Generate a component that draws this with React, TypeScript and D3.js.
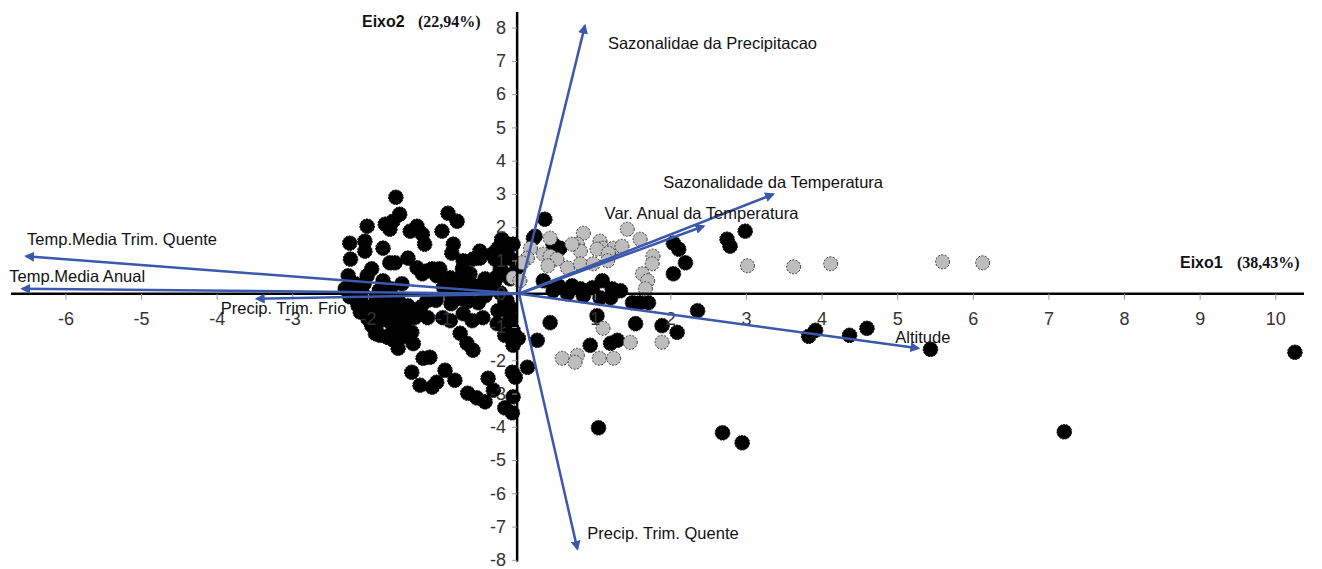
import React, { useEffect, useRef } from 'react';
import * as d3 from 'd3';

// scores of the sites on Eixo1 / Eixo2 (two groups)
const blackScores: [number, number][] = [
  [-1.63, 2.90], [-1.58, 2.39], [-1.67, 2.18], [-1.77, 2.09], [-1.71, 1.94], [-2.01, 2.03],
  [-2.24, 1.52], [-2.23, 1.04], [-2.04, 1.58], [-2.04, 1.28], [-1.80, 1.37], [-1.35, 2.03],
  [-1.28, 1.79], [-1.25, 1.49], [-1.44, 1.88], [-1.47, 1.07], [-1.71, 0.93], [-1.64, 0.93],
  [-1.95, 0.75], [-2.01, 0.54], [-1.35, 0.78], [-1.28, 0.60], [-1.21, 0.69], [-1.80, 0.39],
  [-1.55, 0.30], [-2.17, 0.30], [-2.08, 0.09], [-1.97, -0.15], [-1.87, -0.21], [-1.74, -0.06],
  [-1.60, -0.21], [-1.95, -0.51], [-1.81, -0.57], [-1.68, -0.51], [-1.55, -0.57], [-1.87, -0.87],
  [-1.74, -0.81], [-1.60, -0.96], [-1.51, -1.10], [-1.68, -1.16], [-1.84, -1.25], [-2.08, -0.21],
  [-2.00, -0.75], [-1.47, -0.36], [-1.38, -0.72], [-1.21, -0.72], [-1.22, -0.21], [-1.42, -1.16],
  [-1.74, -1.31], [-1.60, -1.64], [-1.27, -1.94], [-1.18, -1.91], [-1.42, -2.36], [-1.31, -2.75],
  [-1.15, -2.81], [-2.24, -0.09], [-2.13, -0.36], [-1.90, -1.05], [-1.66, -1.40], [-2.05, 0.30],
  [-0.94, 2.42], [-0.82, 2.18], [-1.02, 1.88], [-0.87, 1.49], [-0.89, 1.22], [-0.52, 1.07],
  [-0.23, 1.64], [-0.15, 1.49], [-0.28, 1.37], [-1.15, 0.75], [-1.05, 0.75], [-0.91, 0.48],
  [-0.78, 0.39], [-0.65, 0.60], [-0.65, 0.30], [-0.23, 0.99], [-0.19, 0.60], [-0.38, 0.18],
  [-1.01, -0.72], [-0.91, -0.81], [-0.74, -0.60], [-0.62, -0.81], [-0.78, -1.19], [-0.69, -1.49],
  [-0.61, -1.70], [-0.48, -0.72], [-0.29, -0.90], [-0.12, -0.42], [-0.08, -1.10], [-0.98, -2.30],
  [-0.85, -2.60], [-1.09, -2.66], [-0.68, -2.99], [-0.56, -3.13], [-0.45, -3.25], [-0.34, -2.90],
  [-0.19, -3.43], [-0.09, -3.58], [-0.08, -3.10], [-0.05, -2.51], [-0.41, -2.54], [0.11, -2.21],
  [0.24, -1.40], [0.41, -0.87], [-0.01, -1.34], [-0.74, 0.99], [-0.75, 0.75], [-0.61, 1.04],
  [-0.52, 1.28], [-0.42, 0.09], [-0.25, 0.03], [-0.16, -0.21], [-0.68, 0.03], [-0.54, -0.27],
  [0.34, 2.24], [-0.21, 1.58], [-0.08, 1.49], [-0.12, 1.07], [-0.03, 0.78], [0.19, 1.67],
  [0.21, 1.73], [0.45, 1.49], [0.54, 1.37], [0.32, 0.39], [0.52, 0.24], [0.70, 0.24],
  [0.81, 0.15], [0.97, 0.18], [1.10, 0.39], [1.23, 0.15], [1.34, 0.09], [1.50, -0.27],
  [1.60, -0.27], [1.71, -0.27], [0.45, 0.09], [0.64, 0.00], [0.85, -0.06], [1.07, -0.12],
  [1.21, -0.12], [2.04, 1.52], [2.11, 1.34], [2.20, 0.93], [2.04, 0.60], [2.75, 1.64],
  [2.79, 1.43], [2.99, 1.88], [2.36, -0.51], [1.03, -0.66], [1.54, -0.90], [1.89, -0.96],
  [2.09, -1.16], [0.94, -1.55], [1.21, -1.49], [1.30, -1.40], [1.05, -4.03], [2.69, -4.18],
  [2.95, -4.48], [3.83, -1.28], [3.92, -1.10], [4.37, -1.25], [4.60, -1.04], [5.44, -1.67],
  [10.26, -1.76], [7.21, -4.15], [-0.12, -0.72],
  [-2.15, -0.20], [-2.10, -0.55], [-1.90, -0.40], [-1.75, -0.35], [-1.65, -0.75], [-1.50, -0.80],
  [-1.80, -0.70], [-1.95, -0.95], [-1.55, -1.30], [-1.45, -0.55], [-1.30, -0.40], [-1.70, 0.15],
  [-1.85, 0.10], [-2.20, 0.10], [-1.40, -1.50], [-1.90, -1.20], [-1.00, 0.20], [-0.85, 0.10],
  [-1.10, -0.20], [-0.90, -0.30], [-0.30, 0.50], [-0.45, 0.45], [-0.35, 1.20],
  [-0.19, 1.28], [-0.32, 1.04], [-0.25, 0.75], [-0.12, 0.45], [-0.19, -0.21], [-0.28, -0.51],
  [-0.12, -0.87], [-0.19, -1.25], [-0.08, -1.55], [-0.09, -2.36], [-0.58, 0.24], [-0.45, -0.06],
  [-0.32, 0.39], [-2.26, 0.54], [-2.30, 0.15], [-1.09, 0.54], [-0.74, 0.63], [-0.69, 0.39],
  [-0.95, 0.03], [-0.82, -0.15], [-0.69, -0.24],
];

const grayScores: [number, number][] = [
  [0.41, 1.67], [0.85, 1.82], [1.43, 1.94], [1.60, 1.64], [1.07, 1.58], [1.11, 1.37],
  [1.03, 1.34], [0.77, 1.49], [0.81, 1.28], [1.25, 1.37], [1.18, 1.22], [1.36, 1.43],
  [1.77, 1.13], [1.76, 0.90], [0.32, 1.19], [0.41, 1.13], [0.50, 1.04], [0.15, 1.37],
  [0.11, 1.07], [-0.08, 0.48], [0.38, 0.84], [0.64, 0.78], [0.81, 0.90], [0.98, 0.90],
  [1.17, 0.99], [1.63, 0.60], [1.70, 0.39], [1.67, 0.15], [3.02, 0.84], [3.63, 0.81],
  [4.12, 0.90], [5.60, 0.96], [6.13, 0.93], [1.11, -1.04], [1.47, -1.46], [1.89, -1.46],
  [0.57, -1.94], [0.77, -1.85], [0.74, -2.06], [1.06, -1.94], [1.25, -1.94], [0.04, 0.93],
  [0.01, 0.39], [0.70, 1.49],
];

// variable loadings (arrow tips)
const variables = [
  'Temp.Media Trim. Quente',
  'Temp.Media Anual',
  'Precip. Trim. Frio',
  'Sazonalidae da Precipitacao',
  'Sazonalidade da Temperatura',
  'Var. Anual da Temperatura',
  'Altitude',
  'Precip. Trim. Quente',
];
const loadX = [-6.52, -6.57, -3.47, 0.87, 3.36, 2.44, 5.28, 0.77];
const loadY = [1.13, 0.15, -0.15, 8.06, 2.99, 2.03, -1.64, -7.67];

const xTicks = [-6, -5, -4, -3, -2, -1, 1, 2, 3, 4, 5, 6, 7, 8, 9, 10];
const yTicks = [-8, -7, -6, -5, -4, -3, -2, -1, 0, 1, 2, 3, 4, 5, 6, 7, 8];

// label placement relative to arrow tip (px)
const labelOffset: [number, number][] = [
  [1, -11], [-13, -7], [-36, 15], [23, 23], [-110, -6], [-99, -7], [-23, -5], [10, -10],
];

const W = 1322;
const H = 569;
const ARROW = '#3b58ad';
const FONT = 'Arial, "Liberation Sans", sans-serif';
const SERIF = '"Liberation Serif", "Times New Roman", serif';

const App = () => {
  const ref = useRef<SVGSVGElement>(null);

  useEffect(() => {
    const svg = d3.select(ref.current);
    svg.selectAll('*').remove();

    const x = d3.scaleLinear().domain([-6.72, 10.38]).range([11, 1304]);
    const y = d3.scaleLinear().domain([-8.05, 8.47]).range([561.5, 12]);

    const defs = svg.append('defs');
    defs.append('marker')
      .attr('id', 'head')
      .attr('viewBox', '0 0 10 10')
      .attr('refX', 8)
      .attr('refY', 5)
      .attr('markerWidth', 4)
      .attr('markerHeight', 4)
      .attr('orient', 'auto')
      .append('path')
      .attr('d', 'M0,0 L10,5 L0,10 z')
      .attr('fill', ARROW);

    // points
    svg.append('g').selectAll('circle')
      .data(blackScores)
      .enter().append('circle')
      .attr('cx', d => x(d[0]))
      .attr('cy', d => y(d[1]))
      .attr('r', 7.3)
      .attr('fill', '#000')
      .attr('stroke', '#000')
      .attr('stroke-dasharray', '2,1');

    svg.append('g').selectAll('circle')
      .data(grayScores)
      .enter().append('circle')
      .attr('cx', d => x(d[0]))
      .attr('cy', d => y(d[1]))
      .attr('r', 7)
      .attr('fill', '#bdbdbd')
      .attr('stroke', '#333')
      .attr('stroke-width', 1)
      .attr('stroke-dasharray', '2,1.5');

    // axes through origin
    const fmt = (d: d3.NumberValue) => String(d);
    const xAxis = svg.append('g').attr('transform', `translate(0,${y(0)})`)
      .call(d3.axisBottom(x).tickValues(xTicks).tickSize(6).tickPadding(12).tickFormat(fmt));
    xAxis.select('.domain').attr('d', `M${x.range()[0]},0H${x.range()[1]}`).attr('stroke', '#000').attr('stroke-width', 2.5);
    xAxis.selectAll('.tick line').attr('stroke', '#999');
    xAxis.selectAll('.tick text')
      .attr('font-family', FONT).attr('font-size', 18).attr('fill', '#333');

    const yAxis = svg.append('g').attr('transform', `translate(${x(0) - 2},0)`)
      .call(d3.axisLeft(y).tickValues(yTicks).tickSize(5).tickPadding(6).tickFormat(fmt));
    yAxis.select('.domain').attr('d', `M0,${y.range()[1]}V${y.range()[0]}`).attr('stroke', '#000').attr('stroke-width', 2.5);
    yAxis.selectAll('.tick line').attr('stroke', '#999');
    yAxis.selectAll('.tick text')
      .attr('font-family', FONT).attr('font-size', 18).attr('fill', '#333');

    // arrows
    const arrows = variables.map((name, i) => ({ name, lx: loadX[i], ly: loadY[i], off: labelOffset[i] }));
    svg.append('g').selectAll('line')
      .data(arrows)
      .enter().append('line')
      .attr('x1', x(0))
      .attr('y1', y(0))
      .attr('x2', d => x(d.lx))
      .attr('y2', d => y(d.ly))
      .attr('stroke', ARROW)
      .attr('stroke-width', 2.5)
      .attr('marker-end', 'url(#head)');

    svg.append('g').selectAll('text')
      .data(arrows)
      .enter().append('text')
      .attr('x', d => x(d.lx) + d.off[0])
      .attr('y', d => y(d.ly) + d.off[1])
      .attr('font-family', FONT)
      .attr('font-size', 16.5)
      .attr('fill', '#111')
      .text(d => d.name);

    // axis titles
    const t2 = svg.append('text').attr('x', 362).attr('y', 27).attr('font-weight', 'bold').attr('font-size', 16).attr('fill', '#111');
    t2.append('tspan').attr('font-family', FONT).text('Eixo2');
    t2.append('tspan').attr('font-family', SERIF).attr('x', 418).text('(22,94%)');

    const t1 = svg.append('text').attr('x', 1180).attr('y', 268).attr('font-weight', 'bold').attr('font-size', 16).attr('fill', '#111');
    t1.append('tspan').attr('font-family', FONT).text('Eixo1');
    t1.append('tspan').attr('font-family', SERIF).attr('x', 1237).text('(38,43%)');
  }, []);

  return (
    <div style={{ position: 'absolute', left: 0, top: 0, width: W, height: H, background: '#fff' }}>
      <svg ref={ref} width={W} height={H}></svg>
    </div>
  );
};

export default App;
